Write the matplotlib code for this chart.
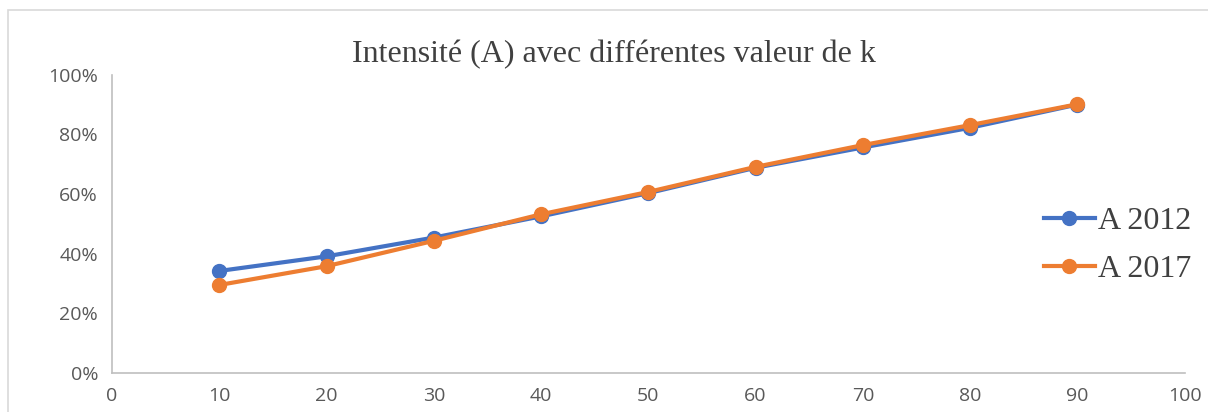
import matplotlib.pyplot as plt
from matplotlib.patches import Rectangle
from matplotlib.ticker import PercentFormatter

k = [10, 20, 30, 40, 50, 60, 70, 80, 90]
a_2012 = [34.2, 39.1, 45.4, 52.5, 60.3, 68.8, 75.6, 82.2, 90.0]
a_2017 = [29.5, 35.8, 44.3, 53.2, 60.7, 69.1, 76.4, 83.1, 90.1]

fig = plt.figure(figsize=(12.08, 4.12), dpi=100)
ax = fig.add_axes([0.0927, 0.0947, 0.888, 0.724])

# cadre gris autour du graphique
fig.patches.append(Rectangle((8 / 1208, -0.1), 1.5, 1.1 - 10 / 412, transform=fig.transFigure,
                             fill=False, edgecolor='#d9d9d9', linewidth=1.2))

ax.plot(k, a_2012, color='#4472C4', lw=3, marker='o', ms=10, label='A 2012', zorder=3)
ax.plot(k, a_2017, color='#ED7D31', lw=3, marker='o', ms=10, label='A 2017', zorder=4)

ax.set_xlim(0, 100)
ax.set_ylim(0, 100)
ax.set_xticks(range(0, 101, 10))
ax.set_yticks(range(0, 101, 20))
ax.yaxis.set_major_formatter(PercentFormatter(decimals=0))

for s in ['top', 'right']:
    ax.spines[s].set_visible(False)
for s in ['left', 'bottom']:
    ax.spines[s].set_color('#bfbfbf')
    ax.spines[s].set_linewidth(1.2)
ax.tick_params(length=0, labelsize=14, labelcolor='#595959', pad=10,
               labelfontfamily='Open Sans')

fig.text(0.508, 0.868, 'Intensité (A) avec différentes valeur de k', ha='center', va='center',
         fontsize=23, family='Liberation Serif', color='#404040')

leg = ax.legend(loc='center left', bbox_to_anchor=(0.864, 0.404), bbox_transform=fig.transFigure,
                frameon=False, prop={'family': 'Liberation Serif', 'size': 23},
                handlelength=1.6, handletextpad=0.1, labelspacing=0.6, borderaxespad=0,
                borderpad=0)
for t in leg.get_texts():
    t.set_color('#404040')

fig.savefig('out.png', dpi=100)
